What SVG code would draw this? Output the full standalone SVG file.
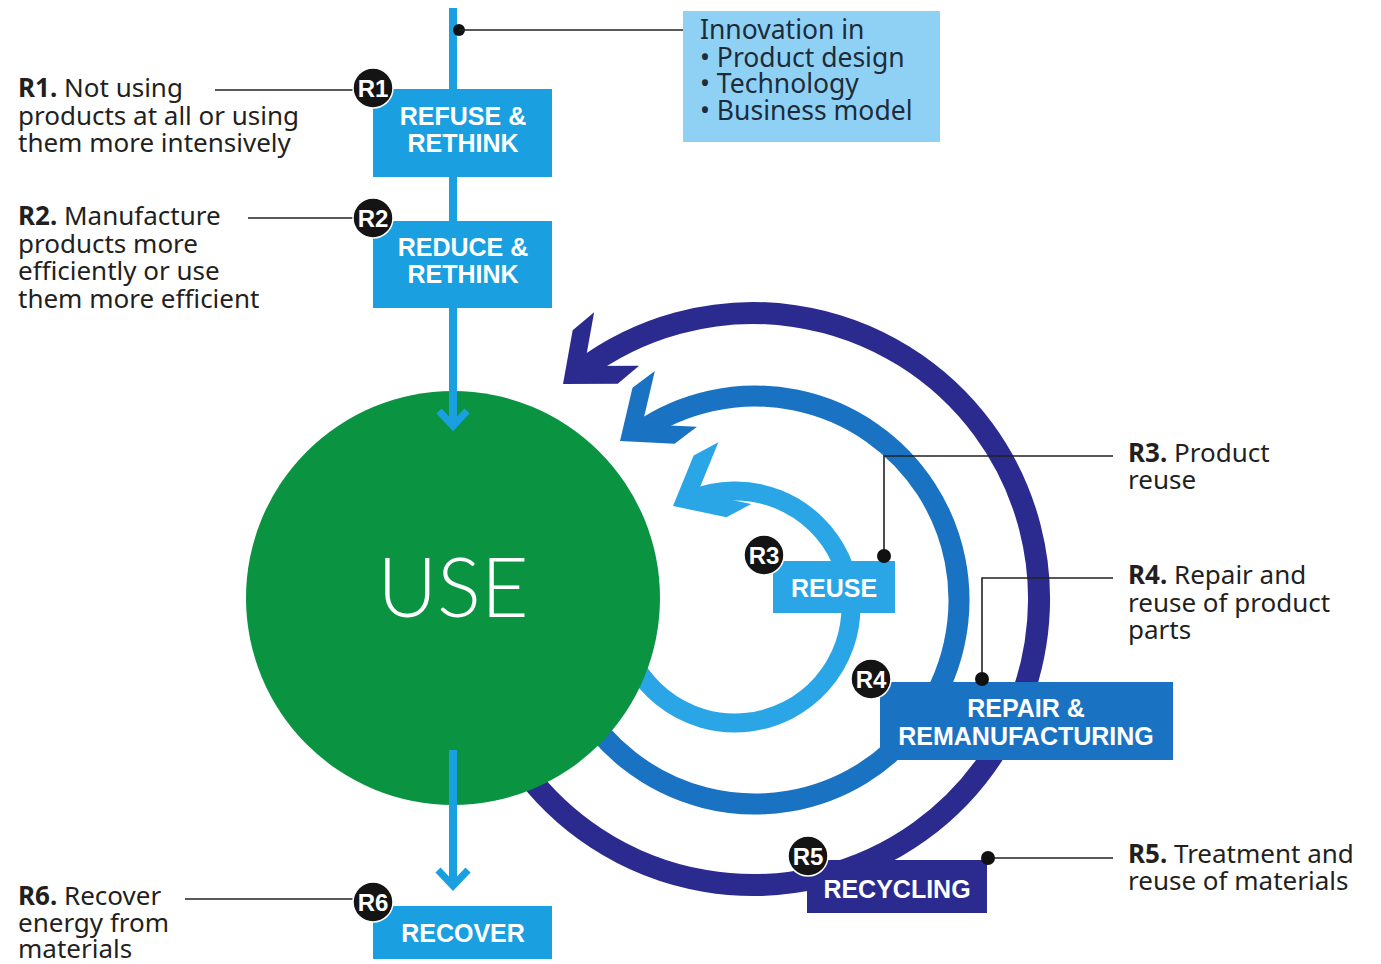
<svg xmlns="http://www.w3.org/2000/svg" width="1381" height="964" viewBox="0 0 1381 964">
<style>
.lbl{font-family:"Noto Sans","Open Sans",sans-serif;font-size:26px;fill:#231f20}
.lbl tspan.b{font-weight:bold}
.inn{font-family:"Noto Sans","Open Sans",sans-serif;font-size:26.5px;fill:#1d2b3a}
.box{font-family:"Liberation Sans",Arial,sans-serif;font-weight:bold;font-size:25px;fill:#fff;text-anchor:middle}
.badge circle{fill:#141414;stroke:#fff;stroke-width:1.5}
.badge text{font-family:"Liberation Sans",Arial,sans-serif;font-weight:bold;font-size:24px;fill:#fff;text-anchor:middle}
.conn{stroke:#222;stroke-width:1.6;fill:none}
.dot{fill:#111}
</style>
<defs>
<polygon id="chev" points="0,0 -42,-35 -70,-35 -28,0 -70,35 -42,35"/>
</defs>
<rect width="1381" height="964" fill="#fff"/>

<g id="loops">
<path d="M518.7,763 A286,286 0 1 0 580.9,370.6" fill="none" stroke="#2b2b8f" stroke-width="22"/>
<use href="#chev" fill="#2b2b8f" transform="translate(563,384) rotate(140)"/>
<path d="M578.3,702 A204,204 0 1 0 639.4,431.9" fill="none" stroke="#1a72c2" stroke-width="21"/>
<use href="#chev" fill="#1a72c2" transform="translate(620,441) rotate(143)"/>
<path d="M634.5,665 A116,116 0 1 0 691.5,499.4" fill="none" stroke="#2aa6e6" stroke-width="19"/>
<use href="#chev" fill="#2aa6e6" transform="translate(673,506) rotate(152)"/>
</g>

<g id="use">
<circle cx="453" cy="598" r="207" fill="#0a9441"/>
<text x="453" y="617" font-family="Lato,'Noto Sans',sans-serif" font-weight="300" font-size="82" fill="#fff" text-anchor="middle">USE</text>
</g>

<g id="flow">
<line x1="453" y1="8" x2="453" y2="426" stroke="#1a9fe0" stroke-width="8"/>
<polyline points="439,411 453,426 467,411" fill="none" stroke="#1a9fe0" stroke-width="7"/>
<line x1="453" y1="750" x2="453" y2="886" stroke="#1a9fe0" stroke-width="8"/>
<polyline points="438,870 453,886 468,870" fill="none" stroke="#1a9fe0" stroke-width="7"/>
</g>

<g id="innovation">
<rect x="683" y="11" width="257" height="131" fill="#8fd1f4"/>
<text class="inn" x="700" y="39">Innovation in</text>
<text class="inn" x="700" y="67">• Product design</text>
<text class="inn" x="700" y="93">• Technology</text>
<text class="inn" x="700" y="120">• Business model</text>
</g>

<g id="connectors">
<circle class="dot" cx="459" cy="30" r="6"/>
<line class="conn" x1="459" y1="30" x2="683" y2="30"/>
<line class="conn" x1="215" y1="90" x2="356" y2="90"/>
<line class="conn" x1="248" y1="218" x2="356" y2="218"/>
<line class="conn" x1="185" y1="899" x2="356" y2="899"/>
<polyline class="conn" points="884,556 884,456 1113,456"/>
<polyline class="conn" points="982,679 982,578 1113,578"/>
<line class="conn" x1="988" y1="858" x2="1113" y2="858"/>
</g>

<g id="refuse">
<rect x="373" y="89" width="179" height="88" fill="#1a9fe0"/>
<text class="box" x="463" y="125">REFUSE &amp;</text>
<text class="box" x="463" y="152">RETHINK</text>
</g>
<g id="reduce">
<rect x="373" y="221" width="179" height="87" fill="#1a9fe0"/>
<text class="box" x="463" y="256">REDUCE &amp;</text>
<text class="box" x="463" y="283">RETHINK</text>
</g>
<g id="recover">
<rect x="373" y="906" width="179" height="53" fill="#1a9fe0"/>
<text class="box" x="463" y="942">RECOVER</text>
</g>
<g id="reuse">
<rect x="773" y="561" width="122" height="52" fill="#2aa6e6"/>
<text class="box" x="834" y="597">REUSE</text>
</g>
<g id="repair">
<rect x="880" y="682" width="293" height="78" fill="#1a72c2"/>
<text class="box" x="1026" y="717" font-size="26">REPAIR &amp;</text>
<text class="box" x="1026" y="745" font-size="26">REMANUFACTURING</text>
</g>
<g id="recycling">
<rect x="807" y="860" width="180" height="53" fill="#2b2b8f"/>
<text class="box" x="897" y="898">RECYCLING</text>
</g>

<g id="dots">
<circle class="dot" cx="884" cy="556" r="7"/>
<circle class="dot" cx="982" cy="679" r="7"/>
<circle class="dot" cx="988" cy="858" r="7"/>
</g>

<g id="badges">
<g class="badge"><circle cx="373" cy="88" r="20"/><text x="373" y="97">R1</text></g>
<g class="badge"><circle cx="373" cy="218" r="20"/><text x="373" y="227">R2</text></g>
<g class="badge"><circle cx="373" cy="902" r="20"/><text x="373" y="911">R6</text></g>
<g class="badge"><circle cx="764" cy="555" r="20"/><text x="764" y="564">R3</text></g>
<g class="badge"><circle cx="871" cy="679" r="20"/><text x="871" y="688">R4</text></g>
<g class="badge"><circle cx="808" cy="856" r="20"/><text x="808" y="865">R5</text></g>
</g>

<g id="labels">
<text class="lbl" x="18" y="97"><tspan class="b">R1.</tspan> Not using</text>
<text class="lbl" x="18" y="124.5">products at all or using</text>
<text class="lbl" x="18" y="152">them more intensively</text>
<text class="lbl" x="18" y="225"><tspan class="b">R2.</tspan> Manufacture</text>
<text class="lbl" x="18" y="252.5">products more</text>
<text class="lbl" x="18" y="280">efficiently or use</text>
<text class="lbl" x="18" y="307.5">them more efficient</text>
<text class="lbl" x="18" y="905"><tspan class="b">R6.</tspan> Recover</text>
<text class="lbl" x="18" y="932">energy from</text>
<text class="lbl" x="18" y="958">materials</text>
<text class="lbl" x="1128" y="462"><tspan class="b">R3.</tspan> Product</text>
<text class="lbl" x="1128" y="489">reuse</text>
<text class="lbl" x="1128" y="584"><tspan class="b">R4.</tspan> Repair and</text>
<text class="lbl" x="1128" y="612">reuse of product</text>
<text class="lbl" x="1128" y="639">parts</text>
<text class="lbl" x="1128" y="863"><tspan class="b">R5.</tspan> Treatment and</text>
<text class="lbl" x="1128" y="890">reuse of materials</text>
</g>
</svg>
